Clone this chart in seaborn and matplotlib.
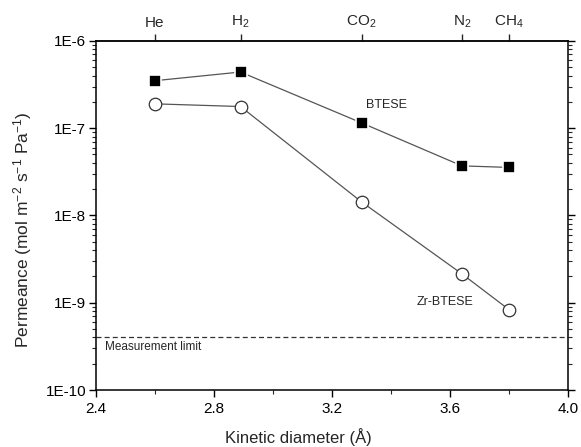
import math
import matplotlib
matplotlib.use("Agg")
import matplotlib.pyplot as plt
import seaborn as sns
import pandas as pd
from matplotlib.ticker import FixedLocator, FuncFormatter, LogLocator, NullFormatter, MultipleLocator

# Gas species and their kinetic diameters (Å)
gases = ["He", "H$_2$", "CO$_2$", "N$_2$", "CH$_4$"]
diameters = [2.60, 2.89, 3.30, 3.64, 3.80]

# Single-gas permeances (mol m-2 s-1 Pa-1)
btese = [3.5e-7, 4.4e-7, 1.15e-7, 3.7e-8, 3.55e-8]
zr_btese = [1.9e-7, 1.77e-7, 1.43e-8, 2.14e-9, 8.3e-10]
measurement_limit = 4.1e-10

# Decade ticks on the permeance axis
y_ticks = [1e-10, 1e-9, 1e-8, 1e-7, 1e-6]

sns.set_theme(style="ticks")
plt.rcParams["font.family"] = ["Liberation Sans", "DejaVu Sans"]
plt.rcParams["mathtext.fontset"] = "custom"
plt.rcParams["mathtext.rm"] = "Liberation Sans"
plt.rcParams["mathtext.it"] = "Liberation Sans"

df = pd.DataFrame({
    "d": diameters * 2,
    "P": btese + zr_btese,
    "membrane": ["BTESE"] * 5 + ["Zr-BTESE"] * 5,
})

fig = plt.figure(figsize=(5.81, 4.47), dpi=100)
ax = fig.add_axes([0.165, 0.1275, 0.813, 0.781])

line_kw = dict(color="#555555", linewidth=0.9)
sns.lineplot(data=df[df.membrane == "BTESE"], x="d", y="P", ax=ax,
             marker="s", markersize=8.5, markerfacecolor="black",
             markeredgecolor="white", markeredgewidth=1.2, zorder=3, **line_kw)
sns.lineplot(data=df[df.membrane == "Zr-BTESE"], x="d", y="P", ax=ax,
             marker="o", markersize=9, markerfacecolor="white",
             markeredgecolor="#333333", markeredgewidth=0.9, zorder=3, **line_kw)

ax.axhline(measurement_limit, color="#333333", linestyle=(0, (4, 2.5)), linewidth=0.9)

ax.set_yscale("log")
ax.set_xlim(2.4, 4.0)
ax.set_ylim(1e-10, 1e-6)

ax.xaxis.set_major_locator(MultipleLocator(0.4))
ax.xaxis.set_minor_locator(MultipleLocator(0.2))
ax.xaxis.set_major_formatter(FuncFormatter(lambda v, p: f"{v:.1f}"))
ax.yaxis.set_major_locator(FixedLocator(y_ticks))
ax.yaxis.set_minor_locator(LogLocator(base=10, subs=range(2, 10), numticks=20))
ax.yaxis.set_minor_formatter(NullFormatter())
ax.yaxis.set_major_formatter(FuncFormatter(lambda v, p: f"1E{int(round(math.log10(v)))}"))

ax.tick_params(axis="both", which="major", direction="out", length=5, width=1,
               labelsize=11, colors="black", right=True, top=False)
ax.tick_params(axis="both", which="minor", direction="out", length=3, width=0.8,
               right=True, top=False)
ax.tick_params(axis="y", which="major", pad=2)
for s in ax.spines.values():
    s.set_visible(True)
    s.set_linewidth(1.1)
    s.set_color("black")

ax.set_xlabel("Kinetic diameter (Å)", fontsize=12)
ax.xaxis.set_label_coords(0.428, -0.108)
ax.set_ylabel("Permeance (mol m$^{-2}$ s$^{-1}$ Pa$^{-1}$)", fontsize=12.5)
ax.yaxis.set_label_coords(-0.132, 0.46)

# Gas names along the top edge at their kinetic diameters
top = ax.secondary_xaxis("top")
top.set_xticks(diameters, labels=gases)
top.tick_params(axis="x", which="major", direction="out", length=5, width=1,
                labelsize=11, pad=3)
top.tick_params(axis="x", which="minor", length=0)
top.spines["top"].set_linewidth(1.1)

ax.text(3.315, 1.85e-7, "BTESE", fontsize=9, ha="left", va="center")
ax.text(3.488, 1.02e-9, "Zr-BTESE", fontsize=9, ha="left", va="center")
ax.text(2.43, 3.1e-10, "Measurement limit", fontsize=8.5, ha="left", va="center")

fig.savefig("out.png", dpi=100)
